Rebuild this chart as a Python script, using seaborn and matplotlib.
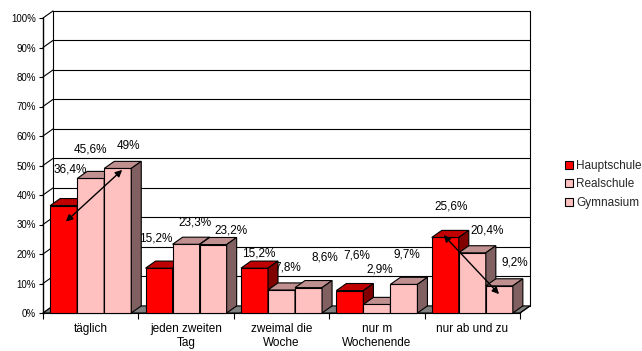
import numpy as np
import pandas as pd
import matplotlib
matplotlib.use("Agg")
import matplotlib.pyplot as plt
from matplotlib.patches import Polygon, Patch
import seaborn as sns

# ---- data ----
categories = ["täglich", "jeden zweiten\nTag", "zweimal die\nWoche",
              "nur m\nWochenende", "nur ab und zu"]
schools = ["Hauptschule", "Realschule", "Gymnasium"]
hauptschule = [36.4, 15.2, 15.2, 7.6, 25.6]
realschule = [45.6, 23.3, 7.8, 2.9, 20.4]
gymnasium = [49.0, 23.2, 8.6, 9.7, 9.2]
y_ticks = [0, 10, 20, 30, 40, 50, 60, 70, 80, 90, 100]
y_tick_labels = [f"{t}%" for t in y_ticks]

# label nudges (x in category units, y in percent) per school / category
label_dx = [[0.07, -0.03, 0.04, 0.07, 0.06],
            [0.0, 0.095, 0.07, 0.03, 0.16],
            [0.11, 0.19, 0.17, 0.035, 0.16]]
label_dy = [[12.4, 10.2, 5.0, 12.0, 10.5],
            [9.7, 7.5, 7.7, 11.7, 7.7],
            [7.6, 4.6, 10.2, 10.0, 8.0]]

# ---- style ----
front = {"Hauptschule": "#FF0000", "Realschule": "#FFC0C0", "Gymnasium": "#FFC0C0"}
top = {"Hauptschule": "#C00000", "Realschule": "#C09090", "Gymnasium": "#C09090"}
side = {"Hauptschule": "#800000", "Realschule": "#806060", "Gymnasium": "#806060"}
DX, DY = 0.105, 2.4   # depth of the pseudo-3D walls in data units

sns.set_theme(style="white")
plt.rcParams["font.family"] = ["Liberation Sans", "DejaVu Sans"]

fig = plt.figure(figsize=(6.42, 3.51), dpi=100)
ax = fig.add_axes([43 / 642, 38 / 351, 477 / 642, 295 / 351])

df = pd.DataFrame({
    "Kategorie": categories * 3,
    "Schule": np.repeat(schools, len(categories)),
    "Anteil": hauptschule + realschule + gymnasium,
})

sns.barplot(data=df, x="Kategorie", y="Anteil", hue="Schule",
            order=categories, hue_order=schools, palette=front,
            width=0.85, saturation=1, edgecolor="black", linewidth=0.8,
            errorbar=None, legend=False, ax=ax)

ax.set_xlim(-0.5, len(categories) - 0.5)
ax.set_ylim(0, 100)
x_lo, x_hi = -0.5, len(categories) - 0.5

# floor
floor = Polygon([(x_lo, 0), (x_hi, 0), (x_hi + DX, DY), (x_lo + DX, DY)],
                closed=True, facecolor="#808080", edgecolor="black",
                linewidth=0.8, zorder=1, clip_on=False)
ax.add_patch(floor)

# back wall gridlines, side wall diagonals and wall edges
for t in y_ticks:
    ax.plot([x_lo + DX, x_hi + DX], [t + DY, t + DY], color="black",
            lw=0.8, zorder=0.5, clip_on=False)
    ax.plot([x_lo, x_lo + DX], [t, t + DY], color="black",
            lw=0.8, zorder=0.5, clip_on=False)
ax.plot([x_lo + DX, x_lo + DX], [DY, 100 + DY], color="black", lw=0.8,
        zorder=0.5, clip_on=False)
ax.plot([x_hi + DX, x_hi + DX], [DY, 100 + DY], color="black", lw=0.8,
        zorder=0.5, clip_on=False)
ax.plot([x_hi, x_hi + DX], [0, DY], color="black", lw=0.8, zorder=1.5,
        clip_on=False)

# give every bar a top and a side face
for j, (school, container) in enumerate(zip(schools, ax.containers)):
    for i, rect in enumerate(container.patches):
        x0, w, h = rect.get_x(), rect.get_width(), rect.get_height()
        z = 3 + (i * len(schools) + j) * 0.1
        rect.set_zorder(z)
        rect.set_clip_on(False)
        ax.add_patch(Polygon([(x0, h), (x0 + w, h), (x0 + w + DX, h + DY),
                              (x0 + DX, h + DY)], closed=True,
                             facecolor=top[school], edgecolor="black",
                             linewidth=0.8, zorder=z + 0.01, clip_on=False))
        ax.add_patch(Polygon([(x0 + w, 0), (x0 + w + DX, DY),
                              (x0 + w + DX, h + DY), (x0 + w, h)], closed=True,
                             facecolor=side[school], edgecolor="black",
                             linewidth=0.8, zorder=z + 0.02, clip_on=False))
        label = f"{h:g}".replace(".", ",") + "%"
        ax.text(x0 + w / 2 + label_dx[j][i], h + label_dy[j][i], label,
                ha="center", va="center", fontsize=8.5, color="black",
                zorder=10)

# trend arrows
arrow = dict(arrowstyle="<|-|>", color="black", lw=1, mutation_scale=10,
             shrinkA=0, shrinkB=0)
ax.annotate("", xy=(0.33, 48.5), xytext=(-0.26, 31.0), arrowprops=arrow,
            zorder=11)
ax.annotate("", xy=(4.28, 6.4), xytext=(3.70, 26.4), arrowprops=arrow,
            zorder=11)

# axes, ticks
for s in ["top", "right"]:
    ax.spines[s].set_visible(False)
ax.spines["left"].set_color("black")
ax.spines["left"].set_linewidth(1.0)
ax.spines["bottom"].set_color("black")
ax.spines["bottom"].set_linewidth(0.8)
ax.spines["bottom"].set_zorder(2)
ax.set_yticks(y_ticks)
ax.set_yticklabels(y_tick_labels)
ax.tick_params(axis="y", length=3, width=0.8, color="black", pad=2,
               labelsize=7, labelcolor="black", left=True)
ax.set_xticks(range(len(categories)))
ax.set_xticklabels(categories, linespacing=1.3)
ax.set_xticks(np.arange(-0.5, len(categories)), minor=True)
ax.tick_params(axis="x", which="major", length=0, pad=7, labelsize=8.5,
               labelcolor="black")
ax.tick_params(axis="x", which="minor", length=4, width=0.8, color="black",
               bottom=True)
ax.set_xlabel("")
ax.set_ylabel("")
ax.grid(False)

# legend
handles = [Patch(facecolor=front[s], edgecolor="black", linewidth=0.8, label=s)
           for s in schools]
fig.legend(handles=handles, loc="upper left",
           bbox_to_anchor=(565 / 642, 1 - 160 / 351), frameon=False,
           fontsize=8.5, handlelength=0.65, handleheight=0.65,
           handletextpad=0.3, labelspacing=0.55, borderpad=0,
           borderaxespad=0)

fig.savefig("out.png", dpi=100)
